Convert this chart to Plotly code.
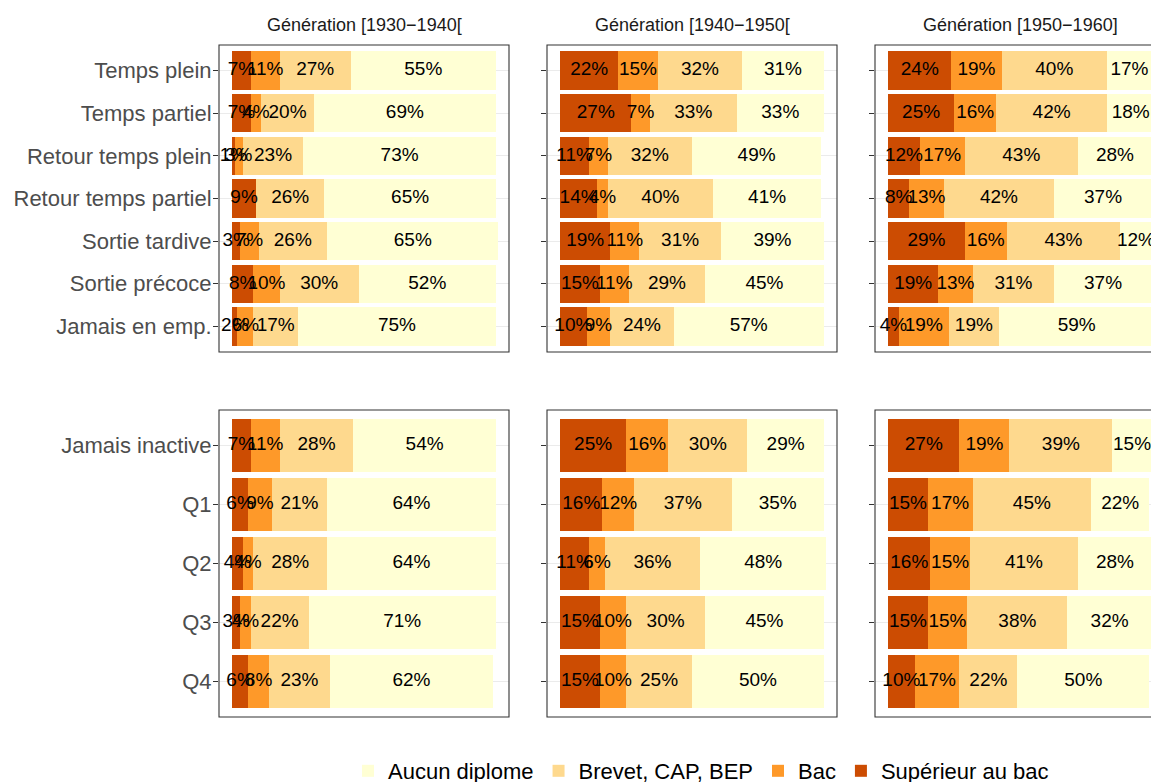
import numpy as np
import plotly.graph_objects as go

W, H = 1151, 782

generations = ["Génération [1930−1940[", "Génération [1940−1950[", "Génération [1950−1960]"]
levels = ["Supérieur au bac", "Bac", "Brevet, CAP, BEP", "Aucun diplome"]
colors = ["#CC4C02", "#FE9929", "#FED98E", "#FFFFD4"]

cats_top = ["Temps plein", "Temps partiel", "Retour temps plein", "Retour temps partiel",
            "Sortie tardive", "Sortie précoce", "Jamais en emp."]
cats_bottom = ["Jamais inactive", "Q1", "Q2", "Q3", "Q4"]

# top panels: one list per generation (1930, 1940, 1950)
top_sup = [[7, 7, 1, 9, 3, 8, 2], [22, 27, 11, 14, 19, 15, 10], [24, 25, 12, 8, 29, 19, 4]]
top_bac = [[11, 4, 3, 0, 7, 10, 6], [15, 7, 7, 4, 11, 11, 9], [19, 16, 17, 13, 16, 13, 19]]
top_brevet = [[27, 20, 23, 26, 26, 30, 17], [32, 33, 32, 40, 31, 29, 24], [40, 42, 43, 42, 43, 31, 19]]
top_aucun = [[55, 69, 73, 65, 65, 52, 75], [31, 33, 49, 41, 39, 45, 57], [17, 18, 28, 37, 12, 37, 59]]

# bottom panels
bot_sup = [[7, 6, 4, 3, 6], [25, 16, 11, 15, 15], [27, 15, 16, 15, 10]]
bot_bac = [[11, 9, 4, 4, 8], [16, 12, 6, 10, 10], [19, 17, 15, 15, 17]]
bot_brevet = [[28, 21, 28, 22, 23], [30, 37, 36, 30, 25], [39, 45, 41, 38, 22]]
bot_aucun = [[54, 64, 64, 71, 62], [29, 35, 48, 45, 50], [15, 22, 28, 32, 50]]

FONT = "Liberation Sans, Arial, sans-serif"

panels = [
    (cats_top, [top_sup, top_bac, top_brevet, top_aucun]),
    (cats_bottom, [bot_sup, bot_bac, bot_brevet, bot_aucun]),
]

x_px = [(219, 509), (547, 837), (875, 1165)]
y_px = [(45, 352), (410, 717)]

fig = go.Figure()
shapes = []
layout_axes = {}

for r, (cats, series) in enumerate(panels):
    n = len(cats)
    for c in range(3):
        idx = r * 3 + c + 1
        sfx = "" if idx == 1 else str(idx)
        xa, ya = "x" + sfx, "y" + sfx
        vals = np.array([s[c] for s in series], dtype=float)  # 4 x n
        for k, lev in enumerate(levels):
            fig.add_trace(go.Bar(
                x=vals[k], y=cats, orientation="h", name=lev,
                marker=dict(color=colors[k], line=dict(width=0)),
                width=0.9, xaxis=xa, yaxis=ya,
                showlegend=(idx == 1), legendgroup=lev, hoverinfo="skip",
            ))
        cum = np.cumsum(vals, axis=0)
        centers = cum - vals / 2
        tx, ty, tt = [], [], []
        for k in range(4):
            for j in range(n):
                if vals[k, j] > 0:
                    tx.append(centers[k, j])
                    ty.append(cats[j])
                    tt.append(f"{int(vals[k, j])}%")
        fig.add_trace(go.Scatter(
            x=tx, y=ty, text=tt, mode="text", xaxis=xa, yaxis=ya,
            textfont=dict(family=FONT, size=19, color="#000000"),
            showlegend=False, hoverinfo="skip", cliponaxis=True,
        ))
        x0p, x1p = x_px[c]
        right = min(x1p, W)
        # bars 0..100 span panel width minus 5% expansion each side
        scale = (x1p - x0p) / 110.0
        xmax = -5 + (right - x0p) / scale
        y0p, y1p = y_px[r]
        layout_axes["xaxis" + sfx] = dict(
            domain=[x0p / W, right / W], range=[-5, xmax], anchor=ya,
            showgrid=False, zeroline=False, showticklabels=False, ticks="",
            showline=False, fixedrange=True,
        )
        layout_axes["yaxis" + sfx] = dict(
            domain=[1 - y1p / H, 1 - y0p / H], anchor=xa, type="category",
            categoryorder="array", categoryarray=cats[::-1],
            range=[-0.6, n - 0.4], showgrid=True, gridcolor="#EBEBEB", gridwidth=1.1,
            zeroline=False, ticks="outside", ticklen=5, tickwidth=1.1, tickcolor="#333333",
            showticklabels=(c == 0), tickfont=dict(family=FONT, size=22, color="#4D4D4D"),
            showline=False, fixedrange=True,
        )
        shapes.append(dict(
            type="rect", xref=xa + " domain", yref=ya + " domain",
            x0=0, x1=(x1p - x0p) / (right - x0p), y0=0, y1=1,
            line=dict(color="#333333", width=1.1), fillcolor="rgba(0,0,0,0)", layer="above",
        ))

annotations = []
for c, g in enumerate(generations):
    cx = (x_px[c][0] + x_px[c][1]) / 2
    annotations.append(dict(
        text=g, x=cx / W, y=1 - 25 / H, xref="paper", yref="paper",
        xanchor="center", yanchor="middle", showarrow=False,
        font=dict(family=FONT, size=18, color="#1A1A1A"),
    ))

fig.update_layout(
    width=W, height=H, margin=dict(l=0, r=0, t=0, b=0, autoexpand=False),
    paper_bgcolor="white", plot_bgcolor="white",
    barmode="stack", bargap=0.1,
    shapes=shapes, annotations=annotations,
    legend=dict(orientation="h", x=701 / W, xanchor="center", y=1 - 750 / H, yanchor="top",
                traceorder="reversed", font=dict(family=FONT, size=22, color="#000000"),
                bgcolor="rgba(0,0,0,0)"),
    font=dict(family=FONT),
    **layout_axes,
)

for c in range(3):
    for r in range(2):
        idx = r * 3 + c + 1
        name = "yaxis" if idx == 1 else f"yaxis{idx}"
        try:
            fig.layout[name].ticklabelstandoff = -3
        except Exception:
            pass

fig.write_html(
    "out.html",
    config={"displayModeBar": False},
    post_script="document.body.style.margin='0';document.body.style.padding='0';",
)
